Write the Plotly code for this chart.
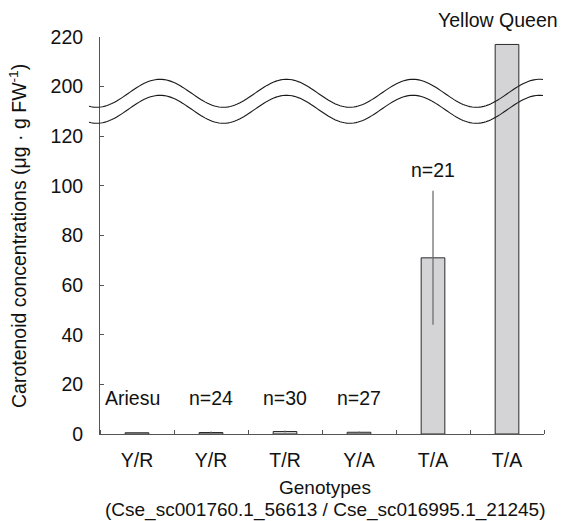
import numpy as np
import plotly.graph_objects as go

# ---- data ----
genotypes = ["Y/R", "Y/R", "T/R", "Y/A", "T/A", "T/A"]
labels = ["Ariesu", "n=24", "n=30", "n=27", "n=21", "Yellow Queen"]
values = [0.5, 0.6, 1.0, 0.7, 71.0, 217.0]
errors = [0.0, 0.4, 0.4, 0.3, 27.0, 0.0]
label_y = [14.5, 14.5, 14.5, 14.5, 106.5, 227]   # label positions in original units
y_ticks = [0, 20, 40, 60, 80, 100, 120, 200, 220]
x_title = "Genotypes"
x_subtitle = "(Cse_sc001760.1_56613 / Cse_sc016995.1_21245)"
y_title = "Carotenoid concentrations (μg · g FW<sup>-1</sup>)"

# broken axis: 120..200 collapsed into one tick interval
BREAK_LO, BREAK_HI, STEP = 120, 200, 20
YMAX = 220
def brk(v):
    return v if v <= BREAK_LO else v - (BREAK_HI - BREAK_LO - STEP)

x = list(range(len(genotypes)))
FONT = "Liberation Sans, Arial, sans-serif"
FS = 19.5
TXT = "#111111"

L, R, T, B = 100, 17, 37, 87
W, H = 561 - L - R, 521 - T - B

def px_to_paper_y(py):
    return (T + H - py) / H

def px_to_paper_x(px):
    return (px - L) / W

fig = go.Figure()
fig.add_trace(go.Bar(
    x=x, y=[brk(v) for v in values], width=0.32,
    marker=dict(color="#d4d4d6", line=dict(color="#2a2a2a", width=1)),
    error_y=dict(type="data", array=errors, visible=True, color="#666666",
                 thickness=1.2, width=0),
    showlegend=False, hoverinfo="skip",
))

# bar labels
ann = []
for i, (lab, ly) in enumerate(zip(labels, label_y)):
    xs = -9 if i == len(labels) - 1 else (-5 if i == 0 else 0)
    ann.append(dict(x=x[i], y=brk(ly) / brk(YMAX), xref="x", yref="paper",
                    xanchor="center", yanchor="middle",
                    text=lab, showarrow=False, xshift=xs,
                    font=dict(family=FONT, size=FS, color=TXT)))

# axis titles
ann.append(dict(x=px_to_paper_x(325), y=px_to_paper_y(487), xref="paper",
                yref="paper", xanchor="center", yanchor="middle",
                text=x_title, showarrow=False,
                font=dict(family=FONT, size=19, color=TXT)))
ann.append(dict(x=px_to_paper_x(325), y=px_to_paper_y(509.5), xref="paper",
                yref="paper", xanchor="center", yanchor="middle",
                text=x_subtitle, showarrow=False,
                font=dict(family=FONT, size=19, color=TXT)))
ann.append(dict(x=px_to_paper_x(18), y=px_to_paper_y(236), xref="paper",
                yref="paper", xanchor="center", yanchor="middle",
                text=y_title, showarrow=False, textangle=-90,
                font=dict(family=FONT, size=FS, color=TXT)))

# wavy break marks (decoration, in pixel-derived paper coords)
pxs = np.linspace(89, 543, 200)
shapes = []
for off in (0, 16):
    py = 93.3 - 14 * np.cos(2 * np.pi * (pxs - 160) / 126.5) + off
    path = "M " + " L ".join(f"{px_to_paper_x(a):.5f},{px_to_paper_y(b):.5f}"
                             for a, b in zip(pxs, py))
    shapes.append(dict(type="path", path=path, xref="paper", yref="paper",
                       line=dict(color="#1a1a1a", width=1.1)))

fig.update_layout(
    width=561, height=521,
    margin=dict(l=L, r=R, t=T, b=B, autoexpand=False),
    paper_bgcolor="white", plot_bgcolor="white",
    font=dict(family=FONT, size=FS, color=TXT),
    annotations=ann, shapes=shapes, showlegend=False,
    xaxis=dict(
        range=[-0.5, len(x) - 0.5], tickmode="array", tickvals=x,
        ticktext=genotypes, ticks="", showline=True, linecolor="#555",
        linewidth=1, showgrid=False, zeroline=False, ticklabelstandoff=9,
        automargin=False,
        minor=dict(tick0=0.5, dtick=1, ticks="inside", ticklen=4,
                   tickcolor="#555", showgrid=False),
    ),
    yaxis=dict(
        range=[0, brk(YMAX)], tickmode="array",
        tickvals=[brk(v) for v in y_ticks], ticktext=[str(v) for v in y_ticks],
        ticks="inside", ticklen=4, tickcolor="#555", showline=True,
        linecolor="#555", linewidth=1, showgrid=False, zeroline=False,
        ticklabelstandoff=12, automargin=False,
    ),
)
fig.write_html("out.html", config={"displayModeBar": False},
               post_script="document.body.style.margin='0px';"
                           "document.body.style.overflow='hidden';")
